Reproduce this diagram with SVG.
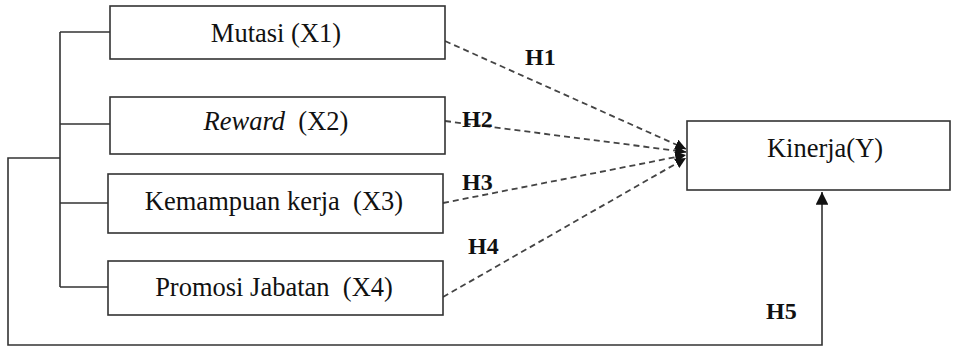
<svg xmlns="http://www.w3.org/2000/svg" width="953" height="347" viewBox="0 0 953 347">
<style>
.box{fill:#fff;stroke:#333;stroke-width:1.6}
.lbl{font-family:"Liberation Serif","Times New Roman",serif;font-size:26.5px;fill:#111;text-anchor:middle}
.h{font-family:"Liberation Serif","Times New Roman",serif;font-size:24px;font-weight:bold;fill:#111}
.solid{fill:none;stroke:#333;stroke-width:1.6}
.dash{fill:none;stroke:#444;stroke-width:1.8;stroke-dasharray:6,4}
</style>
<defs>
<marker id="ah" viewBox="0 0 10 10" refX="10" refY="5" markerWidth="6" markerHeight="6" orient="auto" markerUnits="strokeWidth">
<path d="M0,0 L10,5 L0,10 Z" fill="#111"/>
</marker>
<marker id="ah2" viewBox="0 0 10 10" refX="10" refY="5" markerWidth="8" markerHeight="8" orient="auto" markerUnits="strokeWidth">
<path d="M0,0 L10,5 L0,10 Z" fill="#111"/>
</marker>
</defs>
<g id="connectors">
<path class="solid" d="M60,32 V287 M60,32 H110 M60,124 H110 M60,203 H108 M60,287 H108"/>
<path class="solid" d="M60,158 H8 V345 H822 V192" marker-end="url(#ah2)"/>
<line class="dash" x1="445" y1="41" x2="686" y2="149" marker-end="url(#ah)"/>
<line class="dash" x1="445" y1="121" x2="686" y2="152" marker-end="url(#ah)"/>
<line class="dash" x1="443" y1="203" x2="686" y2="155" marker-end="url(#ah)"/>
<line class="dash" x1="443" y1="297" x2="686" y2="158" marker-end="url(#ah)"/>
<text class="h" x="525" y="65">H1</text>
<text class="h" x="462" y="127">H2</text>
<text class="h" x="462" y="190">H3</text>
<text class="h" x="468" y="254">H4</text>
<text class="h" x="766" y="319">H5</text>
</g>
<g id="x1">
<rect class="box" x="110" y="6" width="335" height="53"/>
<text class="lbl" x="276" y="42">Mutasi (X1)</text>
</g>
<g id="x2">
<rect class="box" x="110" y="97" width="335" height="57"/>
<text class="lbl" x="276" y="130" xml:space="preserve"><tspan font-style="italic">Reward</tspan>  (X2)</text>
</g>
<g id="x3">
<rect class="box" x="108" y="174" width="335" height="59"/>
<text class="lbl" x="274" y="210" xml:space="preserve">Kemampuan kerja  (X3)</text>
</g>
<g id="x4">
<rect class="box" x="108" y="261" width="335" height="54"/>
<text class="lbl" x="274" y="296" xml:space="preserve">Promosi Jabatan  (X4)</text>
</g>
<g id="y">
<rect class="box" x="687" y="121" width="263" height="69"/>
<text class="lbl" x="825" y="157">Kinerja(Y)</text>
</g>
</svg>
